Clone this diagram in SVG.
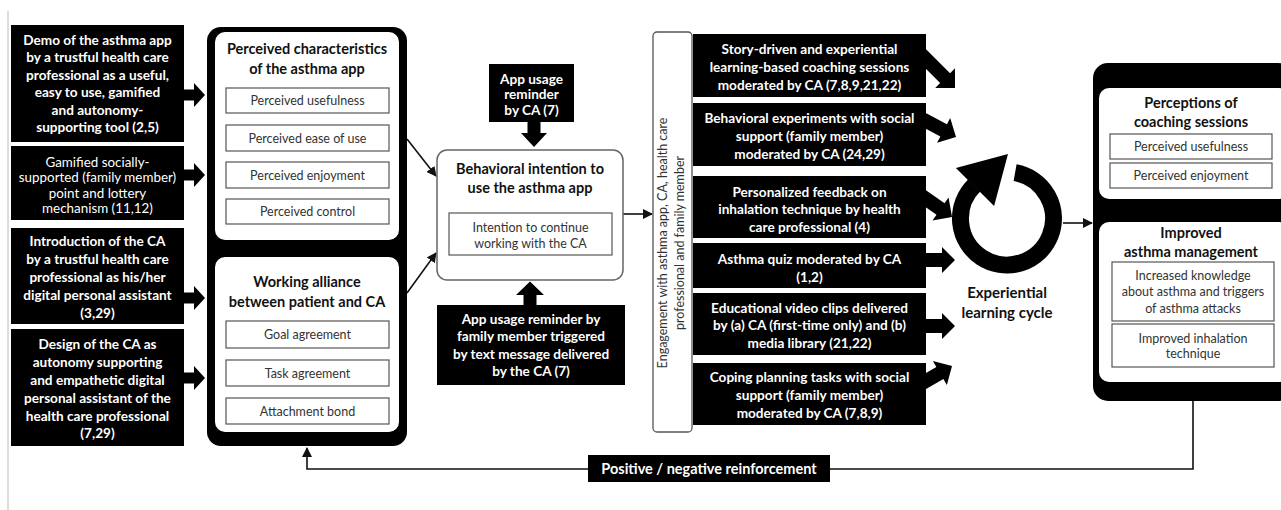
<svg xmlns="http://www.w3.org/2000/svg" width="1281" height="510" viewBox="0 0 1281 510">
<style>
text{font-family:Lato,"Liberation Sans",sans-serif;text-anchor:middle}
.w{fill:#fff;font-size:13.6px;font-weight:bold}
.wn{fill:#fff;font-size:13.4px;font-weight:normal}
.h{fill:#111;font-size:14.5px;font-weight:bold}
.t{fill:#333;font-size:12.5px}
.blk{fill:#000}
.pan{fill:#fff}
.ib{fill:#fff;stroke:#555;stroke-width:1.2}
.con{fill:none;stroke:#111;stroke-width:1.6}
</style>
<defs>
<marker id="ah" viewBox="0 0 10 10" refX="9" refY="5" markerWidth="10" markerHeight="10" markerUnits="userSpaceOnUse" orient="auto">
<path d="M0,0 L10,5 L0,10 Z" fill="#111"/>
</marker>
<path id="la" d="M-22,-5.5 H-11 V-12 L0,0 L-11,12 V5.5 H-22 Z" fill="#000"/>
<path id="ra" d="M-40,-7 H-13 V-13 L0,0 L-13,13 V7 H-40 Z" fill="#000"/>
<path id="rl" d="M-55,-7 H-14 V-14 L0,0 L-14,14 V7 H-55 Z" fill="#000"/>
</defs>
<rect width="1281" height="510" fill="#fff"/>
<line x1="8" y1="11" x2="8" y2="510" stroke="#ddd" stroke-width="2"/>

<g id="connectors">
<line class="con" x1="407" y1="139" x2="436" y2="176" marker-end="url(#ah)"/>
<line class="con" x1="407" y1="293" x2="436" y2="253" marker-end="url(#ah)"/>
<line class="con" x1="623" y1="214" x2="652" y2="214" marker-end="url(#ah)"/>
<line class="con" x1="1063" y1="223" x2="1092" y2="223" marker-end="url(#ah)"/>
<path class="con" d="M1193,401 V469 H307 V448" marker-end="url(#ah)"/>
<use href="#la" x="205" y="95"/>
<use href="#la" x="205" y="175"/>
<use href="#la" x="205" y="298"/>
<use href="#la" x="205" y="378"/>
<path d="M527.5,121 V133 H521 L534,147 L547,133 H540.5 V121 Z" fill="#000"/>
<path d="M523.5,306 V295 H516 L530,281.5 L544,295 H536.5 V306 Z" fill="#000"/>
<use href="#rl" transform="translate(955,88) rotate(45)"/>
<use href="#rl" transform="translate(956,137) rotate(28)"/>
<use href="#rl" transform="translate(952,217) rotate(35)"/>
<use href="#ra" transform="translate(955,260)"/>
<use href="#ra" transform="translate(955,326)"/>
<use href="#rl" transform="translate(952,366) rotate(-30)"/>
</g>

<g id="demo">
<rect class="blk" x="11" y="25" width="173" height="117"/>
<text class="w" x="97.5" y="44.5">Demo of the asthma app</text>
<text class="w" x="97.5" y="62">by a trustful health care</text>
<text class="w" x="97.5" y="79.5">professional as a useful,</text>
<text class="w" x="97.5" y="97">easy to use, gamified</text>
<text class="w" x="97.5" y="114.5">and autonomy-</text>
<text class="w" x="97.5" y="132">supporting tool (2,5)</text>
</g>
<g id="gamified">
<rect class="blk" x="11" y="146" width="173" height="74"/>
<text class="wn" x="97.5" y="166.5">Gamified socially-</text>
<text class="wn" x="97.5" y="182">supported (family member)</text>
<text class="wn" x="97.5" y="197.5">point and lottery</text>
<text class="wn" x="97.5" y="213">mechanism (11,12)</text>
</g>
<g id="introduction">
<rect class="blk" x="11" y="228" width="173" height="96"/>
<text class="w" x="97.5" y="245.5">Introduction of the CA</text>
<text class="w" x="97.5" y="263.5">by a trustful health care</text>
<text class="w" x="97.5" y="281.5">professional as his/her</text>
<text class="w" x="97.5" y="299.5">digital personal assistant</text>
<text class="w" x="97.5" y="317.5">(3,29)</text>
</g>
<g id="design">
<rect class="blk" x="11" y="329" width="173" height="117"/>
<text class="w" x="97.5" y="348.5">Design of the CA as</text>
<text class="w" x="97.5" y="366.5">autonomy supporting</text>
<text class="w" x="97.5" y="384.5">and empathetic digital</text>
<text class="w" x="97.5" y="402.5">personal assistant of the</text>
<text class="w" x="97.5" y="420.5">health care professional</text>
<text class="w" x="97.5" y="437.5">(7,29)</text>
</g>

<g id="determinants">
<rect class="blk" x="207" y="27" width="200" height="419" rx="14"/>
<rect class="pan" x="215" y="32" width="184" height="208" rx="10"/>
<text class="h" x="307" y="54">Perceived characteristics</text>
<text class="h" x="307" y="74">of the asthma app</text>
<rect class="ib" x="226" y="88" width="163" height="25"/>
<text class="t" x="307.5" y="105">Perceived usefulness</text>
<rect class="ib" x="226" y="125" width="163" height="26"/>
<text class="t" x="307.5" y="142.5">Perceived ease of use</text>
<rect class="ib" x="226" y="162" width="163" height="26"/>
<text class="t" x="307.5" y="179.5">Perceived enjoyment</text>
<rect class="ib" x="226" y="199" width="163" height="25"/>
<text class="t" x="307.5" y="216">Perceived control</text>
<rect class="pan" x="215" y="257" width="184" height="175" rx="10"/>
<text class="h" x="307" y="287">Working alliance</text>
<text class="h" x="307" y="307">between patient and CA</text>
<rect class="ib" x="226" y="321" width="163" height="27"/>
<text class="t" x="307.5" y="339">Goal agreement</text>
<rect class="ib" x="226" y="360" width="163" height="26"/>
<text class="t" x="307.5" y="377.5">Task agreement</text>
<rect class="ib" x="226" y="398" width="163" height="26"/>
<text class="t" x="307.5" y="415.5">Attachment bond</text>
</g>

<g id="reminder-ca">
<rect class="blk" x="489" y="64" width="85" height="58"/>
<text class="w" x="531.5" y="83.5">App usage</text>
<text class="w" x="531.5" y="99">reminder</text>
<text class="w" x="531.5" y="114.5">by CA (7)</text>
</g>

<g id="intention">
<rect x="437" y="150" width="186" height="130" rx="10" fill="#fff" stroke="#666" stroke-width="1.5"/>
<text class="h" x="530" y="173.5">Behavioral intention to</text>
<text class="h" x="530" y="192.5">use the asthma app</text>
<rect class="ib" x="449" y="213" width="163" height="42"/>
<text class="t" x="530.5" y="231.5">Intention to continue</text>
<text class="t" x="530.5" y="247.5">working with the CA</text>
</g>

<g id="reminder-family">
<rect class="blk" x="437" y="305" width="188" height="80"/>
<text class="w" x="531" y="323.5">App usage reminder by</text>
<text class="w" x="531" y="341">family member triggered</text>
<text class="w" x="531" y="358.5">by text message delivered</text>
<text class="w" x="531" y="375.5">by the CA (7)</text>
</g>

<g id="engagement">
<rect x="653" y="32" width="39" height="400" rx="4" fill="#fff" stroke="#555" stroke-width="1.3"/>
<g transform="translate(672,243) rotate(-90)">
<text class="t" x="0" y="-5">Engagement with asthma app, CA, health care</text>
<text class="t" x="0" y="12">professional and family member</text>
</g>
</g>

<g id="story">
<rect class="blk" x="693" y="34" width="233" height="63"/>
<text class="w" x="809.5" y="53.5">Story-driven and experiential</text>
<text class="w" x="809.5" y="71.5">learning-based coaching sessions</text>
<text class="w" x="809.5" y="89.5">moderated by CA (7,8,9,21,22)</text>
</g>
<g id="experiments">
<rect class="blk" x="693" y="103" width="233" height="63"/>
<text class="w" x="809.5" y="122.5">Behavioral experiments with social</text>
<text class="w" x="809.5" y="140.5">support (family member)</text>
<text class="w" x="809.5" y="158.5">moderated by CA (24,29)</text>
</g>
<g id="feedback">
<rect class="blk" x="693" y="176" width="233" height="62"/>
<text class="w" x="809.5" y="196.5">Personalized feedback on</text>
<text class="w" x="809.5" y="213.5">inhalation technique by health</text>
<text class="w" x="809.5" y="231.5">care professional (4)</text>
</g>
<g id="quiz">
<rect class="blk" x="693" y="243" width="233" height="45"/>
<text class="w" x="809.5" y="263.5">Asthma quiz moderated by CA</text>
<text class="w" x="809.5" y="281.5">(1,2)</text>
</g>
<g id="video">
<rect class="blk" x="693" y="293" width="233" height="62"/>
<text class="w" x="809.5" y="312.5">Educational video clips delivered</text>
<text class="w" x="809.5" y="329.5">by (a) CA (first-time only) and (b)</text>
<text class="w" x="809.5" y="347.5">media library (21,22)</text>
</g>
<g id="coping">
<rect class="blk" x="693" y="363" width="233" height="62"/>
<text class="w" x="809.5" y="381.5">Coping planning tasks with social</text>
<text class="w" x="809.5" y="399.5">support (family member)</text>
<text class="w" x="809.5" y="417.5">moderated by CA (7,8,9)</text>
</g>

<g id="cycle">
<path d="M1015.1,172.7 A46.5,46.5 0 1 1 974.1,185.6" fill="none" stroke="#000" stroke-width="17"/>
<polygon points="955.9,167.9 1008,154 994.1,206.1" fill="#000"/>
<text class="h" x="1007" y="298" style="font-size:15px">Experiential</text>
<text class="h" x="1007" y="318" style="font-size:15px">learning cycle</text>
</g>

<g id="outcomes">
<rect class="blk" x="1093" y="63" width="200" height="338" rx="15"/>
<rect class="pan" x="1099" y="88" width="190" height="111" rx="10"/>
<text class="h" x="1191" y="108">Perceptions of</text>
<text class="h" x="1191" y="127">coaching sessions</text>
<rect class="ib" x="1110" y="134" width="162" height="25"/>
<text class="t" x="1191" y="151">Perceived usefulness</text>
<rect class="ib" x="1110" y="163" width="162" height="25"/>
<text class="t" x="1191" y="180">Perceived enjoyment</text>
<rect class="pan" x="1099" y="222" width="190" height="160" rx="10"/>
<text class="h" x="1191" y="238">Improved</text>
<text class="h" x="1191" y="257">asthma management</text>
<rect class="ib" x="1112" y="262" width="162" height="59"/>
<text class="t" x="1193" y="279.5">Increased knowledge</text>
<text class="t" x="1193" y="295.5">about asthma and triggers</text>
<text class="t" x="1193" y="312.5">of asthma attacks</text>
<rect class="ib" x="1112" y="324" width="162" height="43"/>
<text class="t" x="1193" y="342.5">Improved inhalation</text>
<text class="t" x="1193" y="357.5">technique</text>
</g>

<g id="reinforcement">
<rect class="blk" x="588" y="455" width="242" height="27"/>
<text class="w" x="709" y="474" style="font-size:14.5px">Positive / negative reinforcement</text>
</g>
</svg>
